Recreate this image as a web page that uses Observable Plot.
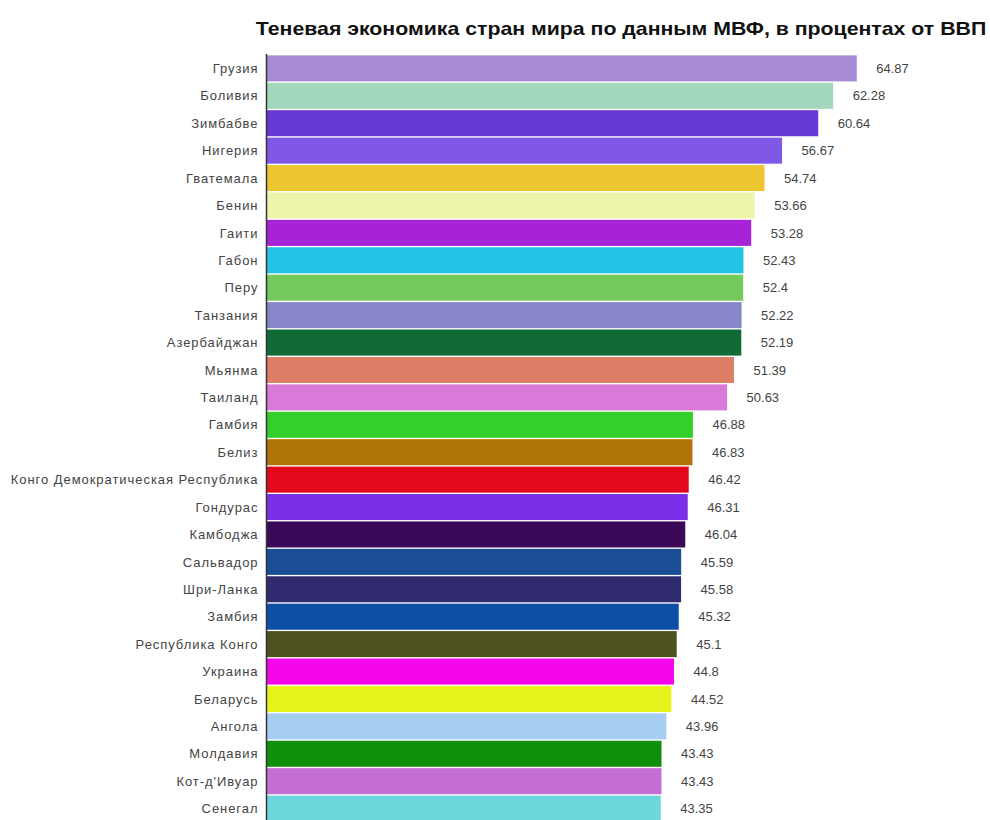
<!DOCTYPE html>
<html><head><meta charset="utf-8">
<script src="https://cdn.jsdelivr.net/npm/d3@7"></script>
<script src="https://cdn.jsdelivr.net/npm/@observablehq/plot@0.6"></script>
<style>
html,body{margin:0;padding:0;background:#fff;overflow:hidden;}
#title{height:44px;position:relative;font-family:"Liberation Sans",Arial,sans-serif;font-weight:bold;font-size:19px;color:#111;}
#title span{position:absolute;left:621px;top:18px;transform:translateX(-50%) scaleX(1.12);white-space:nowrap;}
svg{display:block;}
svg g[aria-label="y-axis tick label"] text{letter-spacing:0.95px;}
</style></head><body>
<div id="title"><span>Теневая экономика стран мира по данным МВФ, в процентах от ВВП</span></div>
<div id="chart"></div>
<script>
const countries = ["Грузия","Боливия","Зимбабве","Нигерия","Гватемала","Бенин","Гаити","Габон","Перу","Танзания","Азербайджан","Мьянма","Таиланд","Гамбия","Белиз","Конго Демократическая Республика","Гондурас","Камбоджа","Сальвадор","Шри-Ланка","Замбия","Республика Конго","Украина","Беларусь","Ангола","Молдавия","Кот-д'Ивуар","Сенегал"];
const values = [64.87,62.28,60.64,56.67,54.74,53.66,53.28,52.43,52.4,52.22,52.19,51.39,50.63,46.88,46.83,46.42,46.31,46.04,45.59,45.58,45.32,45.1,44.8,44.52,43.96,43.43,43.43,43.35];
const colors = ["#a68bd4","#a3d8bc","#6538d4","#7f58e6","#ecc631","#eef4ac","#a623d8","#23c3e6","#76c95d","#8886c8","#0f6a35","#df7e66","#d97ad8","#34d02a","#b07408","#e4081c","#7a2fe6","#3a0a58","#1b4e94","#2f2b6e","#0c4fa6","#4f5220","#f505ea","#e6f41c","#a6cdf2","#0f8f0c","#c46ed6","#6dd6dc"];
const data = countries.map((c,i)=>({country:c, value:values[i], color:colors[i]}));
const chart = Plot.plot({
  width: 990,
  height: 779,
  marginTop: 10,
  marginBottom: 0,
  marginLeft: 266,
  marginRight: 41,
  style: {fontFamily: '"Liberation Sans", Arial, sans-serif', fontSize: "13px", color: "#444"},
  x: {domain: [0, 75], axis: null},
  y: {domain: countries, padding: 0.05, align: 0.5, round: false, label: null, tickSize: 0, tickPadding: 8},
  marks: [
    Plot.barX(data, {y: "country", x: "value", fill: d => d.color}),
    Plot.text(data, {y: "country", x: "value", text: d => String(d.value), textAnchor: "start", dx: 19, fill: "#444", fontSize: 13, style: "letter-spacing:0.5px"}),
    Plot.ruleX([0], {stroke: "#333", strokeWidth: 1.5})
  ]
});
document.getElementById("chart").appendChild(chart);
</script>
</body></html>
